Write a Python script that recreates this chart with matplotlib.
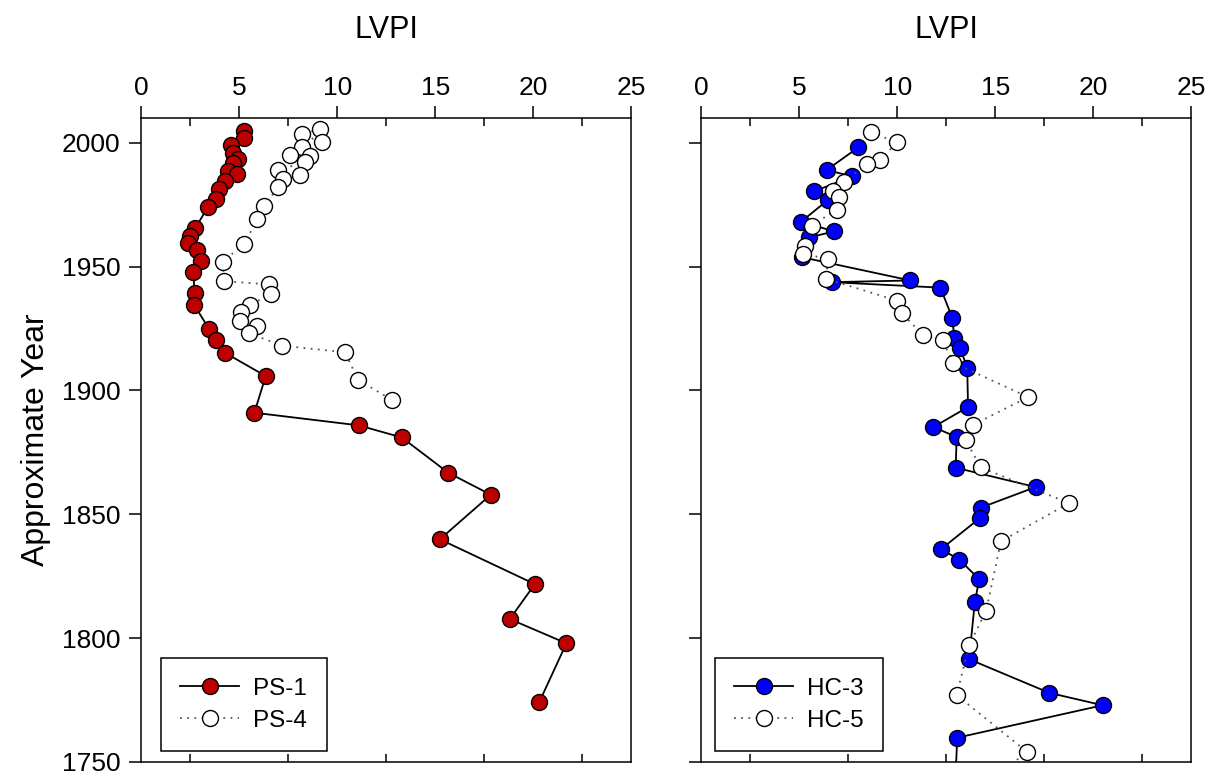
import matplotlib.pyplot as plt
from matplotlib.ticker import MultipleLocator

# PS core (left panel)
ps1_year = [2004.8, 2002.1, 1999.1, 1995.7, 1993.4, 1991.7, 1988.7, 1987.4, 1984.4, 1981.2,
            1977.3, 1973.9, 1965.6, 1962.5, 1959.4, 1956.5, 1952.1, 1948.0, 1939.2, 1934.5,
            1924.9, 1920.2, 1915.2, 1905.8, 1891.0, 1885.9, 1881.0, 1866.8, 1857.9, 1839.9,
            1821.8, 1807.7, 1797.9, 1774.1]
ps1_lvpi = [5.26, 5.26, 4.56, 4.66, 4.95, 4.69, 4.44, 4.87, 4.27, 3.98,
            3.80, 3.39, 2.76, 2.48, 2.40, 2.86, 3.05, 2.65, 2.72, 2.70,
            3.45, 3.80, 4.27, 6.35, 5.77, 11.10, 13.30, 15.66, 17.84, 15.24,
            20.09, 18.81, 21.70, 20.31]

ps4_year = [2005.5, 2003.5, 2000.1, 1998.1, 1995.2, 1994.8, 1992.1, 1989.0, 1987.1, 1985.4,
            1982.0, 1974.3, 1969.2, 1959.2, 1952.0, 1944.1, 1942.8, 1939.0, 1934.5, 1931.6,
            1928.2, 1926.2, 1923.1, 1918.1, 1915.4, 1904.3, 1896.2]
ps4_lvpi = [9.12, 8.21, 9.20, 8.18, 7.59, 8.61, 8.35, 6.99, 8.10, 7.24,
            6.96, 6.28, 5.92, 5.26, 4.15, 4.22, 6.53, 6.63, 5.56, 5.09,
            5.04, 5.89, 5.51, 7.16, 10.39, 11.07, 12.78]

# HC core (right panel)
hc3_year = [1998.1, 1989.0, 1986.4, 1980.4, 1977.0, 1968.1, 1964.2, 1961.8, 1953.8, 1944.4,
            1943.7, 1941.5, 1929.2, 1921.1, 1917.2, 1909.2, 1893.3, 1885.2, 1881.2, 1868.8,
            1861.0, 1852.7, 1848.5, 1835.9, 1831.7, 1823.8, 1814.6, 1791.5, 1777.9, 1772.9,
            1759.8, 1740.0]
hc3_lvpi = [8.01, 6.40, 7.70, 5.77, 6.48, 5.09, 6.79, 5.51, 5.12, 10.67,
            6.65, 12.20, 12.81, 12.91, 13.20, 13.57, 13.61, 11.84, 13.03, 12.98,
            17.06, 14.27, 14.22, 12.23, 13.16, 14.18, 13.96, 13.66, 17.76, 20.48,
            13.06, 12.95]

hc5_year = [2004.2, 2000.2, 1993.0, 1991.4, 1984.3, 1980.6, 1978.2, 1973.0, 1966.5, 1958.5,
            1955.1, 1953.1, 1945.1, 1936.3, 1931.2, 1922.2, 1920.2, 1911.2, 1897.3, 1886.2,
            1879.8, 1868.9, 1854.5, 1839.1, 1810.9, 1797.2, 1777.0, 1754.2, 1740.0]
hc5_lvpi = [8.66, 9.97, 9.14, 8.43, 7.30, 6.73, 7.03, 6.91, 5.63, 5.29,
            5.20, 6.48, 6.36, 9.97, 10.23, 11.33, 12.31, 12.86, 16.68, 13.88,
            13.49, 14.27, 18.76, 15.29, 14.53, 13.67, 13.03, 16.60, 14.50]

year_ticks = [1750, 1800, 1850, 1900, 1950, 2000]

plt.rcParams['font.family'] = ['Liberation Sans', 'DejaVu Sans']

fig = plt.figure(figsize=(12.11, 7.75), dpi=100)
ax1 = fig.add_axes([0.1167, 0.0168, 0.4044, 0.8310])
ax2 = fig.add_axes([0.5791, 0.0168, 0.4046, 0.8310])

solid_kw = dict(color='black', lw=1.3, marker='o', ms=11.5, mec='black', mew=1.0)
dot_kw = dict(color='#555555', lw=1.3, ls=(0, (1, 3)), marker='o', ms=11.5,
              mfc='white', mec='black', mew=1.0)

ax1.plot(ps1_lvpi, ps1_year, mfc='#BC0000', label='PS-1', **solid_kw)
ax1.plot(ps4_lvpi, ps4_year, label='PS-4', **dot_kw)

ax2.plot(hc3_lvpi, hc3_year, mfc='#0000FF', label='HC-3', **solid_kw)
ax2.plot(hc5_lvpi, hc5_year, label='HC-5', **dot_kw)

for ax, leg_x in [(ax1, 0.040), (ax2, 0.028)]:
    ax.set_xlim(0, 25)
    ax.set_ylim(1750, 2010)
    ax.xaxis.set_ticks_position('top')
    ax.xaxis.set_label_position('top')
    ax.xaxis.set_major_locator(MultipleLocator(5))
    ax.xaxis.set_minor_locator(MultipleLocator(2.5))
    ax.set_yticks(year_ticks)
    ax.tick_params(axis='x', which='major', direction='out', length=9, width=1.1,
                   labelsize=19, pad=4, top=True, bottom=False)
    ax.tick_params(axis='x', which='minor', direction='in', length=6, width=1.1,
                   top=True, bottom=True)
    ax.tick_params(axis='y', direction='out', length=9, width=1.1, labelsize=19,
                   pad=6, right=False)
    for s in ax.spines.values():
        s.set_linewidth(1.1)
    ax.set_xlabel('LVPI', fontsize=22, labelpad=27)
    leg = ax.legend(loc='lower left', bbox_to_anchor=(leg_x, 0.017), borderaxespad=0,
                    fontsize=17.5, fancybox=False, edgecolor='black', framealpha=1,
                    handlelength=2.4, handletextpad=0.6, borderpad=0.8,
                    labelspacing=0.4)
    leg.get_frame().set_linewidth(1.1)

ax2.set_yticklabels([])
ax1.set_ylabel('Approximate Year', fontsize=23, labelpad=8)

fig.savefig('out.png', dpi=100)
